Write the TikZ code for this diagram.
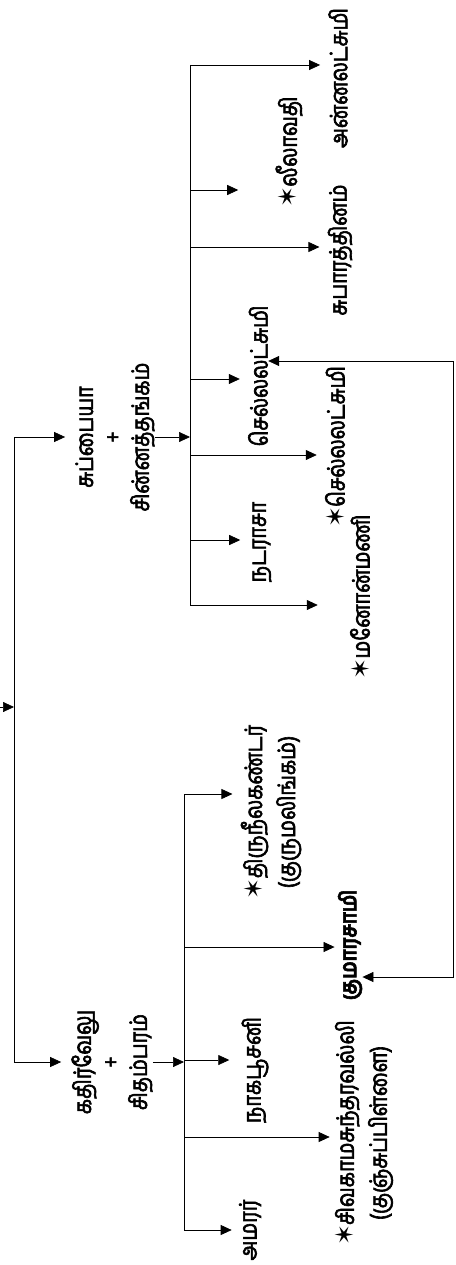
\documentclass[tikz,border=0pt]{standalone}
\usepackage{fontspec}
\newfontfamily\tamil[Script=Tamil,FakeBold=2.5,FakeStretch=0.83]{Hind Madurai}
\newfontfamily\symb{DejaVu Sans}
\usetikzlibrary{arrows.meta}
\newcommand{\dead}{{\symb\fontsize{25}{25}\selectfont ✶}}

\begin{document}
\begin{tikzpicture}[x=1pt,y=-1pt,
    >={Triangle[length=11pt,width=10pt]},
    lbl/.style={rotate=90, inner sep=0pt, align=center, font=\tamil\fontsize{24}{28}\selectfont},
    every path/.style={line width=0.7pt}]
    \useasboundingbox (0,0) rectangle (455,1265);

    % the two couples
    \node[lbl] (cplA) at (115,437) {சுப்பையா\\+\\சின்னத்தங்கம்};
    \node[lbl] (cplB) at (112,1062) {கதிர்வேலு\\+\\சிதம்பரம்};

    % children of the first couple
    \node[lbl] (ann) at (338,78) {அன்னலட்சுமி};
    \node[lbl] (lee) at (289,152) {\dead லீலாவதி};
    \node[lbl] (sub) at (340,250) {சுபாரத்தினம்};
    \node[lbl] (sel) at (258,376) {செல்லலட்சுமி};
    \node[lbl] (sels) at (335,447) {\dead செல்லலட்சுமி};
    \node[lbl] (nad) at (262,542) {நடராசா};
    \node[lbl] (man) at (360,597) {\dead மனோன்மணி};

    % children of the second couple
    \node[lbl] (thi) at (271,812) {\dead திருநீலகண்டர்\\[5pt](குருமலிங்கம்)};
    \node[lbl, font=\tamil\bfseries\fontsize{23}{28}\selectfont] (kum) at (350,945) {குமாரசாமி};
    \node[lbl] (nag) at (255,1070) {நாகபூசனி};
    \node[lbl] (siv) at (364,1133) {\dead சிவகாமசுந்தரவல்லி\\[5pt](குஞ்சுப்பிள்ளை)};
    \node[lbl] (ama) at (250,1230) {அமரர்};

    % main line
    \coordinate (in) at (0,707);
    \coordinate (mt) at (14,707);
    \draw[->] (in) -- (mt);
    \draw (cplA.north -| mt) -- (cplB.north -| mt);
    \draw[->, shorten >=10pt] (cplA.north -| mt) -- (cplA.north);
    \draw[->, shorten >=10pt] (cplB.north -| mt) -- (cplB.north);

    % first family
    \coordinate (ta) at (190,65);
    \coordinate (tb) at (190,605);
    \draw (ta) -- (tb);
    \draw[->] (cplA.south) -- (cplA.south -| ta);
    \foreach \y/\n/\g in {65/ann/8, 190/lee/37, 247/sub/8, 379/sel/8, 455/sels/8, 540/nad/12, 605/man/32}
        \draw[->, shorten >=\g pt] (190,\y) coordinate (b) -- (b -| \n.north);

    % second family
    \coordinate (tc) at (184,794);
    \coordinate (td) at (184,1230);
    \draw (tc) -- (td);
    \draw[->] (cplB.south) -- (cplB.south -| tc);
    \foreach \y/\n/\g in {794/thi/8, 947/kum/3, 1060/nag/12, 1137/siv/5, 1230/ama/7}
        \draw[->, shorten >=\g pt] (184,\y) coordinate (b) -- (b -| \n.north);

    % marriage link
    \coordinate (r1) at (453,361);
    \coordinate (r2) at (453,977);
    \draw[<->] (sel.south |- r1) -- (r1) -- (r2) -- (kum.south |- r2);
\end{tikzpicture}
\end{document}
